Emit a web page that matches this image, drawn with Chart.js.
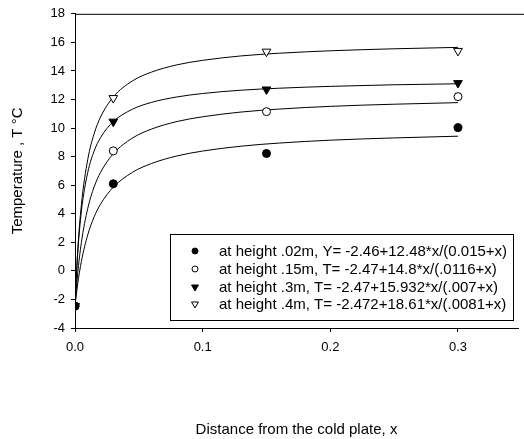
<!DOCTYPE html>
<html>
<head>
<meta charset="utf-8">
<script src="https://cdn.jsdelivr.net/npm/chart.js@4.4.1/dist/chart.umd.min.js"></script>
<style>
    body { margin: 0; background: #fff; }
    #wrap { width: 524px; height: 439px; }
</style>
</head>
<body>
<div id="wrap"><canvas id="chart"></canvas></div>
<script>
// measured points
const measX = [0, 0.03, 0.15, 0.3];
const t02 = [-2.47, 6.1, 8.22, 10.03];
const t15 = [-2.47, 8.4, 11.15, 12.2];
const t30 = [-2.47, 10.45, 12.7, 13.15];
const t40 = [-2.47, 12.1, 15.35, 15.4];

// fitted curves
const fitX = [0, 0.002, 0.005, 0.01, 0.015, 0.02, 0.03, 0.045, 0.06, 0.08, 0.1, 0.13, 0.16, 0.2, 0.25, 0.3];
const fit02 = [-2.46, -0.99, 0.66, 2.53, 3.78, 4.67, 5.86, 6.9, 7.52, 8.05, 8.39, 8.73, 8.95, 9.15, 9.31, 9.43];
const fit15 = [-2.47, -0.29, 1.99, 4.38, 5.88, 6.9, 8.2, 9.3, 9.93, 10.46, 10.79, 11.12, 11.33, 11.52, 11.67, 11.78];
const fit30 = [-2.47, 1.07, 4.17, 6.9, 8.39, 9.33, 10.45, 11.32, 11.8, 12.18, 12.42, 12.65, 12.79, 12.92, 13.03, 13.1];
const fit40 = [-2.47, 1.21, 4.63, 7.81, 9.61, 10.77, 12.18, 13.3, 13.92, 14.43, 14.74, 15.05, 15.24, 15.41, 15.55, 15.65];

const xTicks = [0, 0.1, 0.2, 0.3];
const yTicks = [-4, -2, 0, 2, 4, 6, 8, 10, 12, 14, 16, 18];

const legendLabels = [
    "at height .02m, Y= -2.46+12.48*x/(0.015+x)",
    "at height .15m, T= -2.47+14.8*x/(.0116+x)",
    "at height .3m, T= -2.47+15.932*x/(.007+x)",
    "at height .4m, T= -2.472+18.61*x/(.0081+x)"
];

Chart.defaults.font.family = "'Liberation Sans', Arial, sans-serif";
Chart.defaults.color = "#000";

const markers = [
    { style: "circle", fill: "#000", radius: 4, rotation: 0 },
    { style: "circle", fill: "#fff", radius: 4, rotation: 0 },
    { style: "triangle", fill: "#000", radius: 5, rotation: 180 },
    { style: "triangle", fill: "#fff", radius: 5, rotation: 180 }
];
const seriesY = [t02, t15, t30, t40];
const fitsY = [fit02, fit15, fit30, fit40];

const datasets = [];
seriesY.forEach((ys, i) => {
    datasets.push({
        label: legendLabels[i],
        data: measX.map((x, j) => ({ x: x, y: ys[j] })),
        pointStyle: markers[i].style,
        pointRadius: markers[i].radius,
        pointRotation: markers[i].rotation,
        pointBackgroundColor: markers[i].fill,
        pointBorderColor: "#000",
        pointBorderWidth: 1,
        showLine: false,
        order: 0
    });
});
fitsY.forEach((ys) => {
    datasets.push({
        data: fitX.map((x, j) => ({ x: x, y: ys[j] })),
        showLine: true,
        borderColor: "#000",
        borderWidth: 1,
        pointRadius: 0,
        cubicInterpolationMode: "monotone",
        order: 1
    });
});

// legend markers are a bit smaller than the plotted ones
function drawMarker(ctx, m, x, y) {
    ctx.beginPath();
    if (m.style === "circle") {
        ctx.arc(x, y, 3, 0, Math.PI * 2);
    } else {
        const r = 4;
        ctx.moveTo(x - r * 0.866, y - r * 0.5);
        ctx.lineTo(x + r * 0.866, y - r * 0.5);
        ctx.lineTo(x, y + r);
        ctx.closePath();
    }
    ctx.fillStyle = m.fill;
    ctx.fill();
    ctx.lineWidth = 1;
    ctx.strokeStyle = "#000";
    ctx.stroke();
}

const framePlugin = {
    id: "frame",
    afterDraw(chart) {
        const ctx = chart.ctx;
        const a = chart.chartArea;
        ctx.save();
        // top line of the frame
        ctx.beginPath();
        ctx.moveTo(a.left, a.top + 0.5);
        ctx.lineTo(chart.width, a.top + 0.5);
        ctx.lineWidth = 1;
        ctx.strokeStyle = "#000";
        ctx.stroke();

        // legend box
        const bx = 170.5, by = 234.5, bw = 343, bh = 86;
        ctx.fillStyle = "#fff";
        ctx.fillRect(bx, by, bw, bh);
        ctx.strokeRect(bx, by, bw, bh);
        ctx.font = "15px 'Liberation Sans', Arial, sans-serif";
        ctx.textBaseline = "middle";
        const rows = [251, 269, 287, 304];
        legendLabels.forEach((txt, i) => {
            drawMarker(ctx, markers[i], 195, rows[i]);
            ctx.fillStyle = "#000";
            ctx.fillText(txt, 219, rows[i] + 1);
        });
        ctx.restore();
    }
};

new Chart(document.getElementById("chart"), {
    type: "scatter",
    data: { datasets: datasets },
    plugins: [framePlugin],
    options: {
        responsive: true,
        maintainAspectRatio: false,
        animation: false,
        layout: { padding: { top: 13, left: 0, right: 0, bottom: 0 } },
        plugins: {
            legend: { display: false },
            tooltip: { enabled: false }
        },
        scales: {
            x: {
                type: "linear",
                min: 0,
                max: 0.347,
                afterBuildTicks: (scale) => { scale.ticks = xTicks.map(v => ({ value: v })); },
                afterFit: (scale) => { scale.height = 111; },
                ticks: {
                    font: { size: 13 },
                    padding: 8,
                    callback: (v) => v.toFixed(1)
                },
                grid: { display: true, drawOnChartArea: false, tickLength: 4, color: "#000" },
                border: { display: true, color: "#000", width: 1 },
                title: {
                    display: true,
                    text: "Distance from the cold plate, x",
                    font: { size: 15 },
                    padding: { top: 0, bottom: 0 }
                }
            },
            y: {
                type: "linear",
                min: -4,
                max: 18,
                afterBuildTicks: (scale) => { scale.ticks = yTicks.map(v => ({ value: v })); },
                afterFit: (scale) => { scale.width = 75; },
                ticks: { font: { size: 13 }, padding: 6 },
                grid: { display: true, drawOnChartArea: false, tickLength: 4, color: "#000" },
                border: { display: true, color: "#000", width: 1 },
                title: {
                    display: true,
                    text: "Temperature , T °C",
                    font: { size: 15 },
                    padding: { top: 9, bottom: 0 }
                }
            }
        }
    }
});
</script>
</body>
</html>
